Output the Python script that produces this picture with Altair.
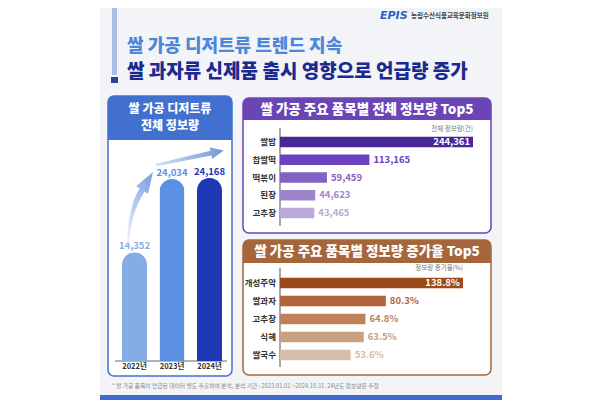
import altair as alt
import pandas as pd

# ---- data ----
years = ["2022년", "2023년", "2024년"]
year_values = [14352, 24034, 24168]

items_total = ["쌀밥", "찹쌀떡", "떡볶이", "된장", "고추장"]
total_values = [244361, 113165, 59459, 44623, 43465]

items_growth = ["개성주악", "쌀과자", "고추장", "식혜", "쌀국수"]
growth_values = [138.8, 80.3, 64.8, 63.5, 53.6]

# ---- styles ----
F = "Noto Sans CJK KR"
year_colors = ["#86ade3", "#5b8fe2", "#1d37b5"]
purple_colors = ["#4a2799", "#6a42bf", "#8462c3", "#9c83cb", "#b9a8d8"]
brown_colors = ["#9b4a1b", "#b0653a", "#be825b", "#c9a084", "#d6bdac"]
BLUE = "#4170cf"
PURPLE = "#6b44b6"
BROWN = "#a6663c"

one = pd.DataFrame({"a": [0]})


def rect(x, x2, y, y2, **kw):
    return alt.Chart(one).mark_rect(**kw).encode(
        x=alt.value(x), x2=alt.value(x2), y=alt.value(y), y2=alt.value(y2))


def rule(x, x2, y, y2, **kw):
    return alt.Chart(one).mark_rule(**kw).encode(
        x=alt.value(x), x2=alt.value(x2), y=alt.value(y), y2=alt.value(y2))


def label(text, x, y, **kw):
    kw.setdefault("font", F)
    return alt.Chart(one).mark_text(text=text, **kw).encode(x=alt.value(x), y=alt.value(y))


layers = []
# background of infographic
layers.append(rect(92, 494, 0, 392, fill="#f3f4f8"))
layers.append(rect(92, 494, 387, 392, fill="#3f6ad0"))
# accent bar and square
layers.append(rect(104, 109, 0, 67, fill="#a9bfe6"))
layers.append(rect(103, 110, 69, 75, fill="#2a3fa8"))

# logo
layers.append(label("EPIS", 372, 8, fontSize=11, fontWeight="bold", fontStyle="italic",
                    color="#2b5fc4", align="left", baseline="middle", font="DejaVu Sans"))
layers.append(label("농림수산식품교육문화정보원", 403, 8, fontSize=6.5, fontWeight="bold",
                    color="#444444", align="left", baseline="middle"))

# titles
layers.append(label("쌀 가공 디저트류 트렌드 지속", 119, 38.5, fontSize=18, fontWeight=900,
                    color="#4d87d9", align="left", baseline="middle"))
layers.append(label("쌀 과자류 신제품 출시 영향으로 언급량 증가", 119, 63.5, fontSize=19, fontWeight=900,
                    color="#1b2a8f", align="left", baseline="middle"))

# ---- panels ----
# left
layers.append(rect(100, 224, 88, 368, fill="white", stroke=BLUE, strokeWidth=1.5, cornerRadius=6))
layers.append(rect(100, 224, 88, 132, fill=BLUE, cornerRadiusTopLeft=6, cornerRadiusTopRight=6))
layers.append(label("쌀 가공 디저트류", 162, 100.5, fontSize=12, fontWeight=900, color="white",
                    align="center", baseline="middle"))
layers.append(label("전체 정보량", 162, 117.5, fontSize=12, fontWeight=900, color="white",
                    align="center", baseline="middle"))
# right top
layers.append(rect(235, 483, 90, 225, fill="white", stroke=PURPLE, strokeWidth=1.5, cornerRadius=6))
layers.append(rect(235, 483, 90, 112, fill=PURPLE, cornerRadiusTopLeft=6, cornerRadiusTopRight=6))
layers.append(label("쌀 가공 주요 품목별 전체 정보량 Top5", 359, 101.5, fontSize=13.5, fontWeight=900,
                    color="white", align="center", baseline="middle"))
# right bottom
layers.append(rect(235, 483, 232, 367, fill="white", stroke=BROWN, strokeWidth=1.5, cornerRadius=6))
layers.append(rect(235, 483, 232, 255, fill=BROWN, cornerRadiusTopLeft=6, cornerRadiusTopRight=6))
layers.append(label("쌀 가공 주요 품목별 정보량 증가율 Top5", 359, 244, fontSize=13.5, fontWeight=900,
                    color="white", align="center", baseline="middle"))

# ---- left bar chart ----
ydf = pd.DataFrame({"year": years, "value": year_values})
yx = alt.X("year:N", scale=alt.Scale(type="band", domain=years, range=[114, 214],
                                     paddingInner=1 / 3, paddingOuter=0), axis=None)
yy = alt.Y("value:Q", scale=alt.Scale(domain=[0, 24034], range=[353, 171], nice=False, zero=True),
           axis=None)
ycol = alt.Color("year:N", scale=alt.Scale(domain=years, range=year_colors), legend=None)

layers.append(rule(107, 219, 353, 353, color="#9a9a9a", strokeWidth=1.5))
base_y = alt.Chart(ydf)
layers.append(base_y.mark_bar(cornerRadiusTopLeft=12.5, cornerRadiusTopRight=12.5).encode(
    x=yx, y=yy, color=ycol))
layers.append(base_y.mark_text(baseline="bottom", dy=-1, fontSize=9.5, fontWeight="bold", font=F).encode(
    x=yx, y=yy, color=ycol, text=alt.Text("value:Q", format=",")))
layers.append(base_y.mark_text(baseline="middle", fontSize=7.5, fontWeight="bold", font=F,
                               color="#333333").encode(x=yx, y=alt.value(359), text="year:N"))

# arrows (decoration)
path1 = ("M119,235 Q120,199 131.5,180.4 L128,178.3 L145,164 L140,185.7 L136.5,183.6 "
         "Q122,207 121.5,235 Z")
path2 = ("M147.75,155.8 L202.5,142.8 L201.7,139.3 L215.7,142.5 L204.3,151.1 L203.5,147.6 "
         "L148.25,158.2 Z")
grad1 = alt.LinearGradient(gradient="linear", x1=0, y1=1, x2=0.6, y2=0,
                           stops=[alt.GradientStop(color="#f0f4fb", offset=0),
                                  alt.GradientStop(color="#86a8e6", offset=1)])
grad2 = alt.LinearGradient(gradient="linear", x1=0, y1=0.5, x2=1, y2=0.5,
                           stops=[alt.GradientStop(color="#d3e0f5", offset=0),
                                  alt.GradientStop(color="#7898dd", offset=1)])
layers.append(alt.Chart(one).mark_point(shape=path1, size=4, filled=True, fill=grad1, opacity=1,
                                        strokeWidth=0).encode(x=alt.value(0), y=alt.value(0)))
layers.append(alt.Chart(one).mark_point(shape=path2, size=4, filled=True, fill=grad2, opacity=1,
                                        strokeWidth=0).encode(x=alt.value(0), y=alt.value(0)))

# ---- right top bar chart ----
tdf = pd.DataFrame({"item": items_total, "value": total_values})
tx = alt.X("value:Q", scale=alt.Scale(domain=[0, 244361], range=[272, 465], nice=False, zero=True),
           axis=None)
ty = alt.Y("item:N", scale=alt.Scale(type="band", domain=items_total, range=[128.75, 210.25],
                                     paddingInner=0.408, paddingOuter=0), axis=None)
tcol = alt.Color("item:N", scale=alt.Scale(domain=items_total, range=purple_colors), legend=None)
layers.append(rule(272, 272, 120, 218, color="#8a8a8a", strokeWidth=1.5))
layers.append(label("전체 정보량(건)", 465, 121, fontSize=6.5, color="#777777",
                    align="right", baseline="middle"))
layers.append(alt.Chart(tdf).mark_bar().encode(x=tx, y=ty, color=tcol))
layers.append(alt.Chart(tdf.iloc[:1]).mark_text(align="right", dx=-3, fontSize=9.5, fontWeight="bold",
                                                font=F, color="white", baseline="middle").encode(
    x=tx, y=ty, text=alt.Text("value:Q", format=",")))
layers.append(alt.Chart(tdf.iloc[1:]).mark_text(align="left", dx=4, fontSize=9.5, fontWeight="bold",
                                                font=F, baseline="middle").encode(
    x=tx, y=ty, color=tcol, text=alt.Text("value:Q", format=",")))
layers.append(alt.Chart(tdf).mark_text(align="right", fontSize=8.5, fontWeight="bold", font=F,
                                       color="#333333", baseline="middle").encode(
    x=alt.value(268), y=ty, text="item:N"))

# ---- right bottom bar chart ----
gdf = pd.DataFrame({"item": items_growth, "value": growth_values})
gx = alt.X("value:Q", scale=alt.Scale(domain=[0, 138.8], range=[272, 455], nice=False, zero=True),
           axis=None)
gy = alt.Y("item:N", scale=alt.Scale(type="band", domain=items_growth, range=[269.75, 352.25],
                                     paddingInner=0.4167, paddingOuter=0), axis=None)
gcol = alt.Color("item:N", scale=alt.Scale(domain=items_growth, range=brown_colors), legend=None)
layers.append(rule(272, 272, 260, 359, color="#8a8a8a", strokeWidth=1.5))
layers.append(label("정보량 증가율(%)", 455, 260, fontSize=6.5, color="#777777",
                    align="right", baseline="middle"))
layers.append(alt.Chart(gdf).mark_bar().encode(x=gx, y=gy, color=gcol))
lab = "format(datum.value, '.1f') + '%'"
layers.append(alt.Chart(gdf.iloc[:1]).transform_calculate(lbl=lab).mark_text(
    align="right", dx=-3, fontSize=9.5, fontWeight="bold", font=F, color="white",
    baseline="middle").encode(x=gx, y=gy, text="lbl:N"))
layers.append(alt.Chart(gdf.iloc[1:]).transform_calculate(lbl=lab).mark_text(
    align="left", dx=4, fontSize=9.5, fontWeight="bold", font=F, baseline="middle").encode(
    x=gx, y=gy, color=gcol, text="lbl:N"))
layers.append(alt.Chart(gdf).mark_text(align="right", fontSize=8.5, fontWeight="bold", font=F,
                                       color="#333333", baseline="middle").encode(
    x=alt.value(268), y=gy, text="item:N"))

# footnote
layers.append(label("* 쌀 가공 품목이 언급된 데이터 별도 추출하여 분석, 분석 기간 : 2023.01.01.~2024.10.31. 24년도 정보량은 추정",
                    104, 378, fontSize=5.8, color="#8a8a8a", align="left", baseline="middle"))

chart = alt.layer(*layers).resolve_scale(
    x="independent", y="independent", color="independent"
).properties(
    width=584, height=392, padding=0, autosize="none", background="white"
).configure_view(stroke=None)

chart.save("out.html", embed_options={"renderer": "svg", "actions": False})
